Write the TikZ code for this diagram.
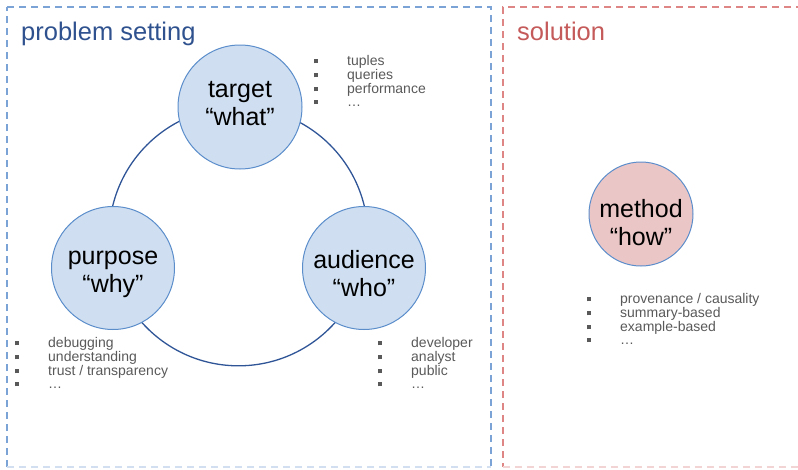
\documentclass[tikz,border=0pt]{standalone}
\usepackage{fontspec}
\setmainfont{Liberation Sans}
\definecolor{bluedash}{HTML}{7BA3D6}
\definecolor{reddash}{HTML}{DE8585}
\definecolor{titleblue}{HTML}{2F528F}
\definecolor{titlered}{HTML}{C55A5A}
\definecolor{ringblue}{HTML}{2F5597}
\definecolor{circfill}{HTML}{CFDFF1}
\definecolor{circline}{HTML}{5B8DCB}
\definecolor{redfill}{HTML}{EBC6C6}
\definecolor{listgray}{HTML}{595959}
\newcommand{\blt}[1]{\makebox[33pt][l]{\textcolor{listgray}{\rule[2pt]{4pt}{4pt}}}#1}
\begin{document}
\begin{tikzpicture}[x=1pt,y=-1pt,
  boxblue/.style={draw=bluedash,line width=1.3pt,dash pattern=on 7pt off 5pt},
  boxred/.style={draw=reddash,line width=1.3pt,dash pattern=on 7pt off 5pt},
  bigcirc/.style={circle,draw=circline,line width=1pt,fill=circfill,inner sep=0pt},
  ctext/.style={align=center,inner sep=0pt,font=\fontsize{25}{28}\selectfont,text=black},
  blist/.style={anchor=north west,align=left,inner sep=0pt,text=listgray,
    font=\fontsize{14}{12.8}\selectfont},
  ttl/.style={anchor=base west,inner sep=0pt,font=\fontsize{25.5}{30}\selectfont}]
\useasboundingbox (0,0) rectangle (798,469);
\draw[boxblue] (7,7) -- (491,7) -- (491,467);
\draw[boxblue] (7,467) -- (7,7);
\draw[boxblue,draw=bluedash!35] (7,467) -- (491,467);
\draw[boxred] (803,7) -- (503,7) -- (503,467);
\draw[boxred,draw=reddash!35] (503,467) -- (803,467);
\node[ttl,text=titleblue] (t1) at (21,40) {problem setting};
\node[ttl,text=titlered] (t2) at (517,40) {solution};
\coordinate (ring) at (238.5,236.4);
\draw[ringblue,line width=1.3pt] (ring) circle[radius=129.4];
\node[bigcirc,minimum size=124pt] (target) at (240,107) {};
\node[bigcirc,minimum size=123pt] (purpose) at (113,268) {};
\node[bigcirc,minimum size=123pt] (audience) at (364,268) {};
\node[bigcirc,fill=redfill,minimum size=104pt] (method) at (641,214) {};
\node[ctext] (targettxt) at ([yshift=3pt]target.center) {target\\“what”};
\node[ctext] (purposetxt) at ([yshift=-6pt]purpose.center) {purpose\\“why”};
\node[ctext] (audiencetxt) at ([yshift=-6pt]audience.center) {audience\\“who”};
\node[ctext] (methodtxt) at ([yshift=-9pt]method.center) {method\\“how”};
\node[blist] (l1) at (314,55) {\blt{tuples}\\\blt{queries}\\\blt{performance}\\\blt{…}};
\node[blist] (l2) at (15,337) {\blt{debugging}\\\blt{understanding}\\\blt{trust / transparency}\\\blt{…}};
\node[blist] (l3) at (378,337) {\blt{developer}\\\blt{analyst}\\\blt{public}\\\blt{…}};
\node[blist] (l4) at (587,293) {\blt{provenance / causality}\\\blt{summary-based}\\\blt{example-based}\\\blt{…}};
\end{tikzpicture}
\end{document}
